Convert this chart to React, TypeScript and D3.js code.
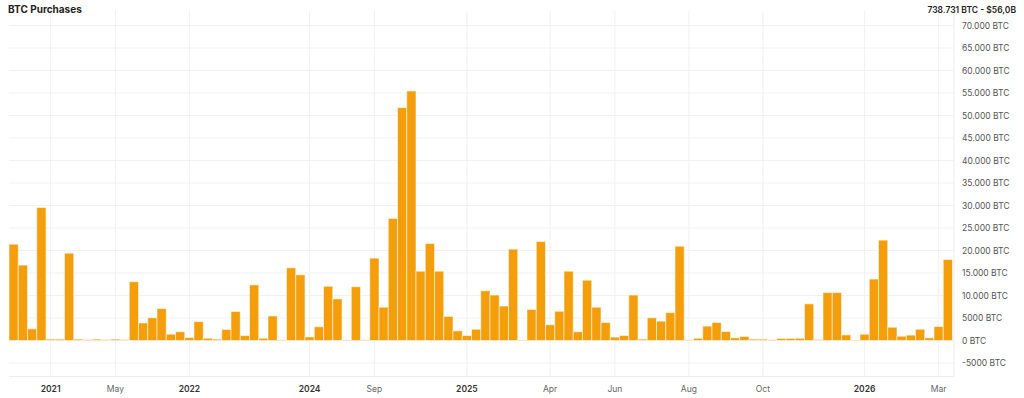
import { useEffect, useRef } from 'react';
import * as d3 from 'd3';

// BTC bought per purchase, in order
const purchases: number[] = [
  21400, 16750, 2600, 29550, 300, 300, 19400, 300, 200, 300,
  200, 300, 200, 13050, 3900, 5050, 7100, 1400, 1950, 650,
  4200, 500, 300, 2450, 6450, 1100, 12350, 500, 5450, 150,
  16150, 14600, 800, 3050, 12050, 9250, 150, 11950, 150, 18300,
  7400, 27100, 51750, 55450, 15400, 21550, 15400, 5350, 2150, 1100,
  2500, 11050, 10100, 7650, 20300, 150, 6900, 22000, 3500, 6500,
  15400, 1950, 13400, 7400, 4000, 750, 1100, 10100, 300, 5050,
  4300, 6200, 20950, 150, 500, 3200, 4000, 2000, 600, 900,
  300, 300, 150, 450, 450, 500, 8150, 200, 10650, 10650,
  1250, 100, 1400, 13650, 22300, 2950, 950, 1200, 2500, 600,
  3100, 18000,
];

// x-axis ticks: which purchase they sit on, and their label
const tickBars: number[] = [4, 11, 19, 32, 39, 49, 58, 65, 73, 81, 92, 100];
const tickLabels: string[] = ['2021', 'May', '2022', '2024', 'Sep', '2025', 'Apr', 'Jun', 'Aug', 'Oct', '2026', 'Mar'];

const yTicks: number[] = [-5000, 0, 5000, 10000, 15000, 20000, 25000, 30000, 35000, 40000, 45000, 50000, 55000, 60000, 65000, 70000];

const title = 'BTC Purchases';
const summary = '738.731 BTC - $56,0B';

const fmtBtc = (v: number) => {
  const abs = Math.abs(v);
  const s = abs >= 10000 ? d3.format(',')(abs).replace(/,/g, '.') : String(abs);
  return (v < 0 ? '-' : '') + s + ' BTC';
};

const W = 1024;
const H = 398;

const BarChart = () => {
  const svgRef = useRef<SVGSVGElement>(null);

  useEffect(() => {
    const left = 9, right = 954, top = 16.5, bottom = 376.5;

    const svg = d3.select(svgRef.current);
    svg.selectAll('*').remove();

    const x = d3.scaleBand<number>()
      .domain(purchases.map((_, i) => i))
      .range([left, left + purchases.length * 9.25])
      .padding(0);

    const y = d3.scaleLinear()
      .domain([-8000, 72000])
      .range([bottom, top]);

    const font = 'Inter, "Noto Sans", sans-serif';

    // horizontal grid
    svg.append('g')
      .selectAll('line')
      .data(yTicks)
      .enter().append('line')
      .attr('x1', left)
      .attr('x2', right)
      .attr('y1', d => y(d))
      .attr('y2', d => y(d))
      .attr('stroke', '#f1f1f1')
      .attr('stroke-width', 1);

    // vertical grid
    svg.append('g')
      .selectAll('line')
      .data(tickBars)
      .enter().append('line')
      .attr('x1', d => x(d)! + x.bandwidth() / 2)
      .attr('x2', d => x(d)! + x.bandwidth() / 2)
      .attr('y1', top - 6)
      .attr('y2', bottom)
      .attr('stroke', '#f1f1f1')
      .attr('stroke-width', 1);

    // plot border (right + bottom)
    svg.append('path')
      .attr('d', `M${right},${top - 6}V${bottom}H${left}`)
      .attr('fill', 'none')
      .attr('stroke', '#ececec')
      .attr('stroke-width', 1);

    // bars
    svg.append('g')
      .selectAll('rect')
      .data(purchases)
      .enter().append('rect')
      .attr('x', (_, i) => x(i)!)
      .attr('width', x.bandwidth())
      .attr('y', d => y(d))
      .attr('height', d => y(0) - y(d))
      .attr('fill', '#f59e0b')
      .attr('stroke', '#ffffff')
      .attr('stroke-opacity', 0.55)
      .attr('stroke-width', 1);

    // y axis labels (right side)
    svg.append('g')
      .selectAll('text')
      .data(yTicks)
      .enter().append('text')
      .attr('x', 962)
      .attr('y', d => y(d))
      .attr('dy', '0.38em')
      .style('font-family', font)
      .style('font-size', '8.5px')
      .style('fill', '#555')
      .text(d => fmtBtc(d));

    // x axis labels
    svg.append('g')
      .selectAll('text')
      .data(tickBars)
      .enter().append('text')
      .attr('x', d => x(d)! + x.bandwidth() / 2)
      .attr('y', 391.5)
      .attr('text-anchor', 'middle')
      .style('font-family', font)
      .style('font-size', '8.5px')
      .style('font-weight', (_, i) => (/^\d{4}$/.test(tickLabels[i]) ? 600 : 400))
      .style('fill', (_, i) => (/^\d{4}$/.test(tickLabels[i]) ? '#333' : '#666'))
      .text((_, i) => tickLabels[i]);

    // header
    svg.append('text')
      .attr('x', 8)
      .attr('y', 13)
      .style('font-family', font)
      .style('font-size', '10px')
      .style('font-weight', 700)
      .style('fill', '#222')
      .text(title);

    svg.append('text')
      .attr('x', 1016)
      .attr('y', 13)
      .attr('text-anchor', 'end')
      .style('font-family', font)
      .style('font-size', '8.5px')
      .style('font-weight', 600)
      .style('fill', '#222')
      .text(summary);
  }, []);

  return (
    <svg ref={svgRef} width={W} height={H} style={{ position: 'absolute', left: 0, top: 0, background: '#fff' }} />
  );
};

export default function App() {
  return <BarChart />;
}
